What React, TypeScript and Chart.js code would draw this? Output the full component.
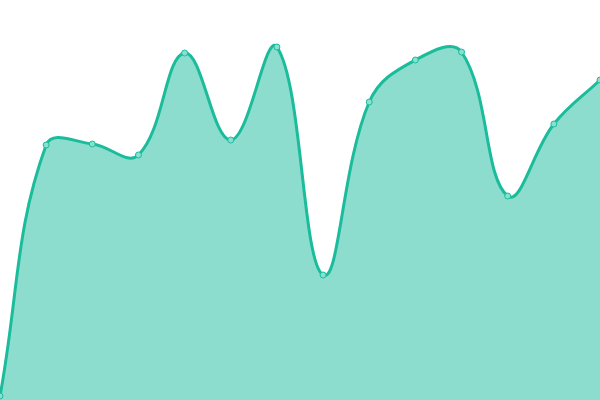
import { useEffect, useRef } from "react";
import { Chart, registerables } from "chart.js";

Chart.register(...registerables);

const LABELS = ["1", "2", "3", "4", "5", "6", "7", "8", "9", "10", "11", "12", "13", "14"];
const VALUES = [4, 255, 256, 245, 347, 260, 353, 125, 298, 340, 348, 204, 276, 320];

const LINE = "rgb(26, 188, 156)";
const FILL = "rgba(26, 188, 156, 0.5)";

export default function App() {
  const canvasRef = useRef<HTMLCanvasElement>(null);
  const chartRef = useRef<any>(null);

  useEffect(() => {
    if (!canvasRef.current) return;
    if (chartRef.current) chartRef.current.destroy();

    chartRef.current = new Chart(canvasRef.current, {
      type: "line",
      data: {
        labels: LABELS,
        datasets: [
          {
            data: VALUES,
            borderColor: LINE,
            backgroundColor: FILL,
            borderWidth: 3,
            fill: true,
            tension: 0.4,
            pointRadius: 3,
            pointBorderWidth: 1,
            pointBackgroundColor: "rgb(138, 224, 208)",
            pointBorderColor: LINE,
          },
        ],
      },
      options: {
        animation: false,
        responsive: false,
        layout: { padding: 0, autoPadding: false },
        plugins: { legend: { display: false }, tooltip: { enabled: false } },
        scales: {
          x: { display: false, offset: false },
          y: { display: false, min: 0, max: 400 },
        },
      },
    });

    return () => {
      if (chartRef.current) {
        chartRef.current.destroy();
        chartRef.current = null;
      }
    };
  }, []);

  return (
    <div style={{ position: "absolute", left: 0, top: 0, width: 600, height: 400 }}>
      <canvas ref={canvasRef} width={600} height={400} />
    </div>
  );
}
